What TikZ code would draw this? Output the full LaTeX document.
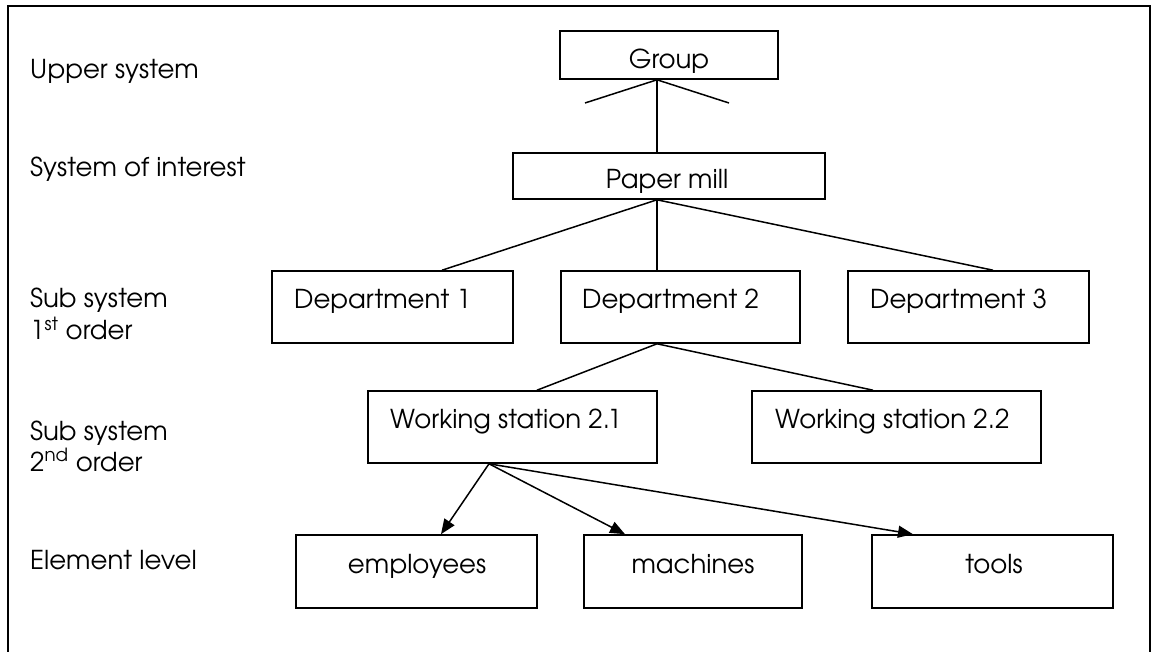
\documentclass[tikz,border=0pt]{standalone}
\usepackage{fontspec}
\setmainfont{TeX Gyre Adventor}
\newfontfamily\boxfont{TeX Gyre Adventor}
\usetikzlibrary{arrows.meta}

\begin{document}
\begin{tikzpicture}[x=1pt,y=-1pt,
  lvltext/.style={anchor=base west, inner sep=0pt, font=\fontsize{26}{31}\selectfont},
  unit/.style={draw, line width=1.6pt, rectangle, inner sep=0pt, minimum height=#1},
  unit/.default=72pt,
  boxtext/.style={inner sep=0pt, font=\boxfont\fontsize{26}{31}\selectfont},
  link/.style={line width=1.5pt},
  arrowlink/.style={link, -{Triangle[length=15pt,width=12pt]}}]

\useasboundingbox (0,0) rectangle (1157,652);

% open frame around the hierarchy
\draw[line width=1.4pt] (8,652) -- (8,6) -- (1150,6) -- (1150,652);

% level labels
\node[lvltext] (l-upper) at (30,79) {Upper system};
\node[lvltext] (l-soi) at (30,177) {System of interest};
\node[lvltext] (l-sub1a) at (30,308) {Sub system};
\node[lvltext] (l-sub1b) at (30,340) {1\textsuperscript{st} order};
\node[lvltext] (l-sub2a) at (30,440) {Sub system};
\node[lvltext] (l-sub2b) at (30,471) {2\textsuperscript{nd} order};
\node[lvltext] (l-elem) at (30,569) {Element level};

% boxes
\node[unit=48pt, minimum width=218pt] (grp) at (669,55) {};
\node[unit=46pt, minimum width=312pt] (pm) at (669,176) {};
\node[unit, minimum width=241pt] (d1) at (392.5,307) {};
\node[unit, minimum width=239pt] (d2) at (680.5,307) {};
\node[unit, minimum width=241pt] (d3) at (968.5,307) {};
\node[unit, minimum width=289pt] (ws1) at (512.5,427) {};
\node[unit, minimum width=289pt] (ws2) at (896.5,427) {};
\node[unit=73pt, minimum width=241pt] (emp) at (416.5,571.5) {};
\node[unit=73pt, minimum width=218pt] (mach) at (693,571.5) {};
\node[unit=73pt, minimum width=241pt] (tools) at (992.5,571.5) {};

% box texts
\node[boxtext, anchor=base] (grp-t) at (669,69) {Group};
\node[boxtext, anchor=base] (pm-t) at (667,189) {Paper mill};
\node[boxtext, anchor=base west] (d1-t) at (294,309) {Department 1};
\node[boxtext, anchor=base west] (d2-t) at (582,309) {Department 2};
\node[boxtext, anchor=base west] (d3-t) at (870,309) {Department 3};
\node[boxtext, anchor=base west] (ws1-t) at (390,428) {Working station 2.1};
\node[boxtext, anchor=base west] (ws2-t) at (775,428) {Working station 2.2};
\node[boxtext, anchor=base] (emp-t) at (417,573) {employees};
\node[boxtext, anchor=base] (mach-t) at (693,573) {machines};
\node[boxtext, anchor=base] (tools-t) at (994,573) {tools};

% upper system: link to paper mill and the two open branches
\coordinate (g-left) at (585,103);
\coordinate (g-right) at (729,103);
\draw[link] ([xshift=-12pt]grp.south) -- ([xshift=-12pt]pm.north);
\draw[link] ([xshift=-12pt]grp.south) -- (g-left);
\draw[link] ([xshift=-12pt]grp.south) -- (g-right);

% paper mill to departments
\draw[link] ([xshift=-12pt]pm.south) -- ([xshift=49.5pt]d1.north);
\draw[link] ([xshift=-12pt]pm.south) -- ([xshift=-23.5pt]d2.north);
\draw[link] ([xshift=-12pt]pm.south) -- ([xshift=24.5pt]d3.north);

% department 2 to working stations
\draw[link] ([xshift=-23.5pt]d2.south) -- ([xshift=24.5pt]ws1.north);
\draw[link] ([xshift=-23.5pt]d2.south) -- ([xshift=-23.5pt]ws2.north);

% working station 2.1 to its elements
\draw[arrowlink] ([xshift=-23.5pt]ws1.south) -- ([xshift=24.5pt]emp.north);
\draw[arrowlink] ([xshift=-23.5pt]ws1.south) -- ([xshift=-68pt]mach.north);
\draw[arrowlink] ([xshift=-23.5pt]ws1.south) -- ([xshift=-79.5pt]tools.north);

\end{tikzpicture}
\end{document}
